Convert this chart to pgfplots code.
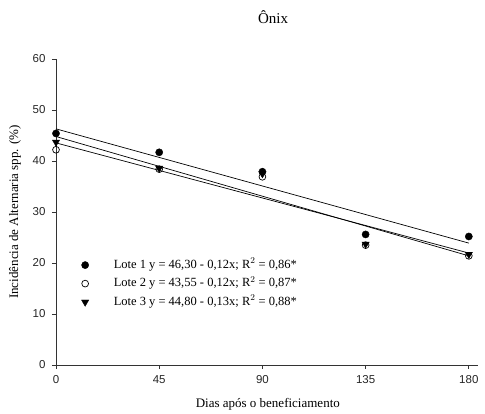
\documentclass[border=0pt]{standalone}
\usepackage{pgfplots}
\pgfplotsset{compat=1.18}
\usepackage{fontspec}
\setmainfont{Liberation Serif}
\newfontfamily\arial{Liberation Sans}

\begin{document}
\begin{tikzpicture}
\path[use as bounding box] (0,0) rectangle (485pt,414pt);
\begin{axis}[
  at={(56pt,49pt)}, anchor=south west,
  scale only axis,
  width=422pt, height=306pt,
  xmin=0, xmax=184,
  ymin=0, ymax=60,
  axis x line=bottom, axis y line=left,
  axis line style={-, line width=0.9pt, black!80},
  tick align=outside,
  major tick length=4pt,
  tick style={line width=0.8pt, black!80},
  xtick={0,45,90,135,180},
  xticklabels={0,45,90,135,180},
  ytick={0,10,20,30,40,50,60},
  yticklabels={0,10,20,30,40,50,60},
  tick label style={font=\arial\fontsize{11.5}{13}\selectfont, text=black!85},
  xticklabel style={yshift=-3pt},
  yticklabel style={xshift=-3pt},
  title={Ônix},
  title style={font=\fontsize{15}{17}\selectfont, at={(axis description cs:0.5,1)}, anchor=center, yshift=36pt, xshift=6pt},
  xlabel={Dias após o beneficiamento},
  xlabel style={font=\fontsize{13}{15}\selectfont, at={(axis description cs:0.502,-0.1275)}, anchor=center},
  ylabel={Incidência de Alternaria spp. (\%)},
  ylabel style={font=\fontsize{13}{15}\selectfont, at={(axis description cs:-0.097,0.5)}, anchor=center},
  legend image code/.code={\draw[#1] plot coordinates {(0pt,0pt)};},
  legend style={draw=none, fill=none, font=\fontsize{12.5}{14}\selectfont,
    at={(axis description cs:0.06,0.266)}, anchor=west, inner sep=0pt,
    row sep=6.5pt,
    nodes={inner sep=0pt, text height=9pt, text depth=3pt},
    cells={anchor=west}},
]
% regression lines
\addplot[forget plot, black, line width=0.7pt] coordinates {(0,46.30) (180,23.90)};
\addplot[forget plot, black, line width=0.7pt] coordinates {(0,43.55) (180,21.95)};
\addplot[forget plot, black, line width=0.7pt] coordinates {(0,44.80) (180,21.40)};
% observed points
\addplot[only marks, mark=*, mark size=3.6pt, black] coordinates {
  (0,45.4) (45,41.7) (90,37.9) (135,25.6) (180,25.2)};
\addplot[only marks, mark=o, mark size=3.4pt, black, mark options={fill=white, line width=0.7pt}] coordinates {
  (0,42.2) (45,38.4) (90,36.9) (135,23.5) (180,21.4)};
\addplot[only marks, mark=triangle*, mark size=4.2pt, black, mark options={rotate=180}] coordinates {
  (0,43.7) (45,38.6) (90,37.5) (135,23.7) (180,21.7)};
\legend{{\hspace*{25pt}Lote 1 y = 46,30 - 0,12x; R$^{2}$ = 0,86*},
        {\hspace*{25pt}Lote 2 y = 43,55 - 0,12x; R$^{2}$ = 0,87*},
        {\hspace*{25pt}Lote 3 y = 44,80 - 0,13x; R$^{2}$ = 0,88*}}
\end{axis}
\end{tikzpicture}
\end{document}
